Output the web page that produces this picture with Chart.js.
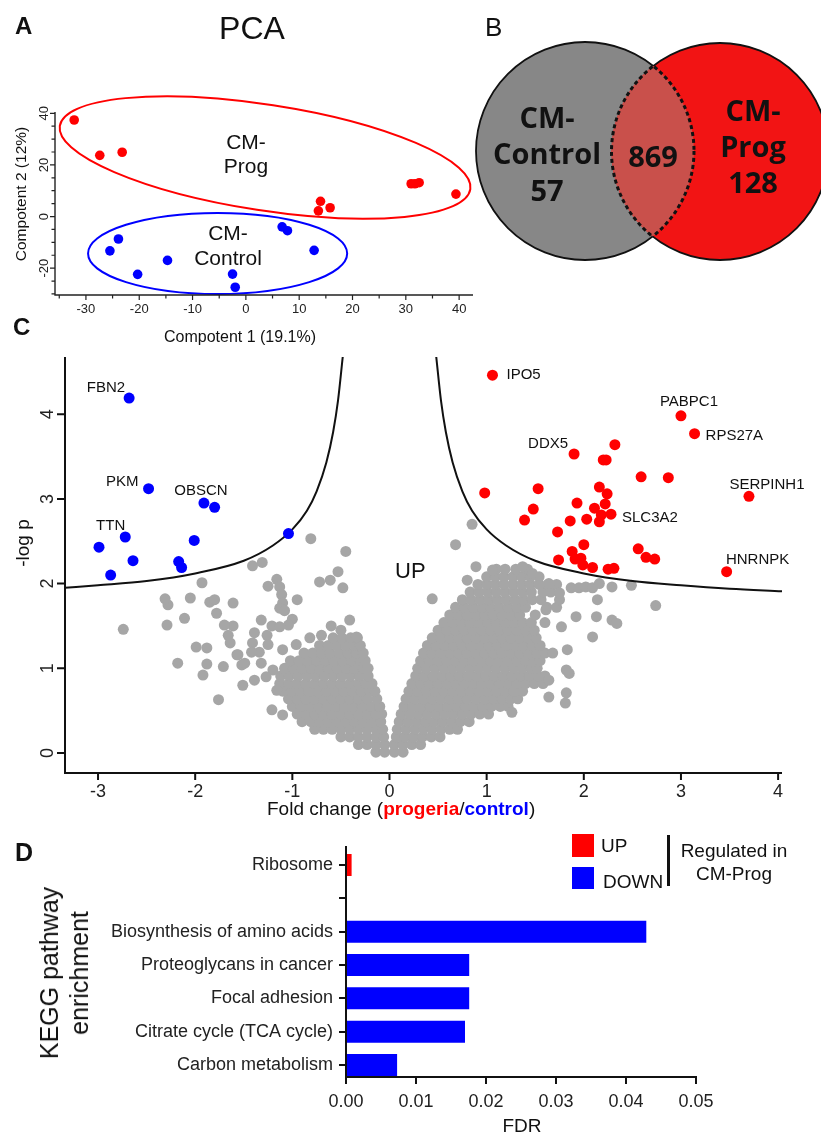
<!DOCTYPE html>
<html lang="en"><head><meta charset="utf-8"><title>Progeria figure</title>
<script src="https://cdn.jsdelivr.net/npm/chart.js@4.4.1/dist/chart.umd.min.js"></script>
<style>
html,body{margin:0;padding:0;background:#fff;}
#page{position:relative;width:821px;height:1133px;overflow:hidden;background:#fff;font-family:Arial,"Liberation Sans",Helvetica,sans-serif;color:#111;}
#page canvas{position:absolute;}
.t{position:absolute;white-space:nowrap;line-height:1;}
.c{transform:translate(-50%,-50%);text-align:center;}
.r{transform:translate(-50%,-50%) rotate(-90deg);text-align:center;}
.venn{font-family:"Open Sans",sans-serif;font-weight:700;font-size:29px;color:#111;}
.box{position:absolute;}
</style></head><body>
<div id="page">
<canvas id="cA" width="480" height="320" style="left:0;top:0"></canvas>
<canvas id="cB" width="361" height="300" style="left:460px;top:0"></canvas>
<canvas id="cC" width="821" height="510" style="left:0;top:320px"></canvas>
<canvas id="cD" width="821" height="303" style="left:0;top:830px"></canvas>

<div class="t" style="left:15px;top:14px;font-size:24px;font-weight:700">A</div>
<div class="t c" style="left:252px;top:28px;font-size:32px">PCA</div>
<div class="t c" id="lblProg" style="left:246px;top:154px;font-size:21px;line-height:24px"></div>
<div class="t c" id="lblCtrl" style="left:228px;top:244.5px;font-size:21px;line-height:25px"></div>
<div class="t r" style="left:21px;top:194px;font-size:15.5px">Compotent 2 (12%)</div>
<div class="t c" style="left:240px;top:337px;font-size:16px">Compotent 1 (19.1%)</div>

<div class="t" style="left:485px;top:13.6px;font-size:26px">B</div>
<div class="t c venn" id="vCtrl" style="left:547px;top:153.5px;line-height:36.5px"></div>
<div class="t c venn" id="vBoth" style="left:653px;top:155px"></div>
<div class="t c venn" id="vProg" style="left:753px;top:146px;line-height:36px"></div>

<div class="t" style="left:13px;top:315px;font-size:24px;font-weight:700">C</div>
<div class="t r" style="left:22px;top:543px;font-size:19px">-log p</div>
<div class="t" style="left:395px;top:560px;font-size:22px">UP</div>
<div class="t" style="left:267px;top:798.5px;font-size:19px">Fold change (<b style="color:#ff0000">progeria</b>/<b style="color:#0000ff">control</b>)</div>

<div class="t" style="left:15px;top:840px;font-size:25px;font-weight:700">D</div>
<div class="t r" style="left:64px;top:973px;font-size:25px;line-height:30px">KEGG pathway<br>enrichment</div>
<div class="t c" style="left:522px;top:1125px;font-size:19px">FDR</div>
<div class="box" style="left:572px;top:834px;width:22px;height:23px;background:#ff0000"></div>
<div class="box" style="left:572px;top:867px;width:22px;height:22px;background:#0000ff"></div>
<div class="t" id="legUp" style="left:601px;top:845px;transform:translateY(-50%);font-size:19px"></div>
<div class="t" id="legDown" style="left:603px;top:881px;transform:translateY(-50%);font-size:19px"></div>
<div class="box" style="left:667px;top:835px;width:2.5px;height:51px;background:#111"></div>
<div class="t c" style="left:734px;top:861.75px;font-size:19px;line-height:23.5px">Regulated in<br>CM-Prog</div>
</div>

<script>
const FONT = 'Arial, "Liberation Sans", Helvetica, sans-serif';

/* ---------------- Panel A : PCA ---------------- */
const pcaGroups = ['CM-Prog', 'CM-Control'];
const pcaProgX = [-32.2, -27.4, -23.2, 14.0, 13.6, 15.8, 31.0, 31.7, 32.5, 39.4];
const pcaProgY = [37.4, 23.7, 24.9, 5.9, 2.2, 3.4, 12.7, 12.7, 13.1, 8.7];
const pcaCtrlX = [-23.9, -25.5, -20.3, -14.7, -2.5, -2.0, 6.8, 7.8, 12.8];
const pcaCtrlY = [-8.7, -13.3, -22.4, -17.0, -22.3, -27.4, -4.0, -5.5, -13.1];
const pcaXTicks = [-30, -20, -10, 0, 10, 20, 30, 40];
const pcaXMinorTicks = [-35, -30, -25, -20, -15, -10, -5, 0, 5, 10, 15, 20, 25, 30, 35, 40];
const pcaYTicks = [-20, 0, 20, 40];
const pcaYMinorTicks = [-30, -25, -20, -15, -10, -5, 0, 5, 10, 15, 20, 25, 30, 35, 40];
// group ellipses in data units: centre, end of major axis, end of minor axis
const pcaEllipseProg = [3.6, 22.87, 42.1, 10.6, 2.1, 2.6];
const pcaEllipseCtrl = [-5.3, -14.3, 19.0, -14.3, -5.3, 1.4];

/* ---------------- Panel B : Venn ---------------- */
const vennSets = ['CM-Control', 'CM-Prog'];
const vennOnly = [57, 128];
const vennShared = 869;

/* ---------------- Panel C : volcano ---------------- */
const volXTicks = [-3, -2, -1, 0, 1, 2, 3, 4];
const volYTicks = [0, 1, 2, 3, 4];
const downGenes = ['FBN2', 'PKM', 'OBSCN', '', 'TTN', '', '', '', '', '', '', ''];
const downX = [-2.68, -2.48, -1.91, -1.80, -2.72, -2.99, -2.64, -2.87, -2.01, -2.17, -2.14, -1.04];
const downY = [4.19, 3.12, 2.95, 2.90, 2.55, 2.43, 2.27, 2.10, 2.51, 2.26, 2.19, 2.59];
const upGenes = ['IPO5', 'PABPC1', 'RPS27A', 'DDX5', '', '', '', '', '', 'SERPINH1', '', '', '', '', '', '', '', '', 'SLC3A2', '', '', '', '', '', '', '', '', '', '', '', '', '', '', '', '', '', '', 'HNRNPK'];
const upX = [1.06, 3.00, 3.14, 1.90, 2.32, 2.20, 2.23, 2.59, 2.87, 3.70, 0.98, 1.53, 2.16, 2.24, 1.93, 2.22, 2.11, 1.48, 2.28, 2.18, 2.03, 2.16, 1.86, 1.39, 1.73, 2.00, 2.56, 1.88, 2.64, 2.73, 1.74, 1.91, 1.97, 1.99, 2.09, 2.25, 2.31, 3.47];
const upY = [4.46, 3.98, 3.77, 3.53, 3.64, 3.46, 3.46, 3.26, 3.25, 3.03, 3.07, 3.12, 3.14, 3.06, 2.95, 2.94, 2.89, 2.88, 2.82, 2.81, 2.76, 2.73, 2.74, 2.75, 2.61, 2.46, 2.41, 2.38, 2.31, 2.29, 2.28, 2.29, 2.30, 2.22, 2.19, 2.17, 2.18, 2.14];
// significance threshold curve
const curveLeftX = [-3.34, -3.0, -2.5, -2.0, -1.5, -1.2, -1.0, -0.85, -0.75, -0.65, -0.58, -0.53, -0.48];
const curveLeftY = [1.95, 1.98, 2.03, 2.12, 2.27, 2.45, 2.64, 2.86, 3.09, 3.43, 3.79, 4.16, 4.69];
const curveRightX = [0.48, 0.53, 0.58, 0.65, 0.75, 0.85, 1.0, 1.2, 1.5, 2.0, 2.5, 3.0, 3.5, 4.04];
const curveRightY = [4.69, 4.16, 3.79, 3.43, 3.09, 2.86, 2.64, 2.45, 2.27, 2.12, 2.03, 1.98, 1.94, 1.91];
// non-significant proteins: dense cloud read row by row [-log p, [fold changes]]
const greyRows = [
  [0.01, [-0.14, -0.05, 0.05, 0.14]],
  [0.10, [-0.32, -0.23, -0.14, -0.05, 0.05, 0.14, 0.23, 0.32]],
  [0.19, [-0.5, -0.41, -0.32, -0.23, -0.14, -0.06, 0.07, 0.16, 0.25, 0.34, 0.43, 0.52]],
  [0.28, [-0.77, -0.68, -0.59, -0.5, -0.41, -0.32, -0.23, -0.14, -0.07, 0.08, 0.17, 0.26, 0.35, 0.44, 0.53, 0.62, 0.7]],
  [0.37, [-0.9, -0.81, -0.72, -0.63, -0.54, -0.45, -0.36, -0.27, -0.18, -0.09, 0.1, 0.19, 0.28, 0.37, 0.46, 0.55, 0.64, 0.73, 0.82]],
  [0.46, [-0.95, -0.86, -0.77, -0.68, -0.59, -0.5, -0.41, -0.32, -0.23, -0.14, -0.08, 0.12, 0.21, 0.3, 0.39, 0.48, 0.57, 0.66, 0.75, 0.84, 0.93, 1.02]],
  [0.55, [-1.0, -0.91, -0.82, -0.73, -0.64, -0.55, -0.46, -0.37, -0.28, -0.19, -0.1, 0.15, 0.24, 0.33, 0.42, 0.51, 0.6, 0.69, 0.78, 0.87, 0.96, 1.05, 1.14, 1.22]],
  [0.64, [-1.04, -0.95, -0.86, -0.77, -0.68, -0.59, -0.5, -0.41, -0.32, -0.23, -0.13, 0.17, 0.26, 0.35, 0.44, 0.53, 0.62, 0.71, 0.8, 0.89, 0.98, 1.07, 1.16, 1.25, 1.32]],
  [0.73, [-1.1, -1.01, -0.92, -0.83, -0.74, -0.65, -0.56, -0.47, -0.38, -0.29, -0.2, -0.15, 0.2, 0.29, 0.38, 0.47, 0.56, 0.65, 0.74, 0.83, 0.92, 1.01, 1.1, 1.19, 1.28, 1.37]],
  [0.82, [-1.13, -1.04, -0.95, -0.86, -0.77, -0.68, -0.59, -0.5, -0.41, -0.32, -0.24, -0.18, 0.23, 0.32, 0.41, 0.5, 0.59, 0.68, 0.77, 0.86, 0.95, 1.04, 1.13, 1.22, 1.31, 1.4, 1.49, 1.58]],
  [0.91, [-1.12, -1.03, -0.94, -0.85, -0.76, -0.67, -0.58, -0.49, -0.4, -0.31, -0.22, 0.27, 0.36, 0.45, 0.54, 0.63, 0.72, 0.81, 0.9, 0.99, 1.08, 1.17, 1.26, 1.35, 1.44, 1.53, 1.6]],
  [1.00, [-1.08, -0.99, -0.9, -0.81, -0.72, -0.63, -0.54, -0.45, -0.36, -0.27, -0.22, 0.29, 0.38, 0.47, 0.56, 0.65, 0.74, 0.83, 0.92, 1.01, 1.1, 1.19, 1.28, 1.37, 1.46, 1.52]],
  [1.09, [-1.02, -0.93, -0.84, -0.75, -0.66, -0.57, -0.48, -0.39, -0.3, -0.25, 0.32, 0.41, 0.5, 0.59, 0.68, 0.77, 0.86, 0.95, 1.04, 1.13, 1.22, 1.31, 1.4, 1.49, 1.55]],
  [1.18, [-0.88, -0.79, -0.7, -0.61, -0.52, -0.43, -0.34, -0.27, 0.35, 0.44, 0.53, 0.62, 0.71, 0.8, 0.89, 0.98, 1.07, 1.16, 1.25, 1.34, 1.43, 1.52, 1.6]],
  [1.27, [-0.72, -0.63, -0.54, -0.45, -0.36, -0.3, 0.39, 0.48, 0.57, 0.66, 0.75, 0.84, 0.93, 1.02, 1.11, 1.2, 1.29, 1.38, 1.47, 1.55]],
  [1.36, [-0.58, -0.49, -0.4, -0.33, 0.44, 0.53, 0.62, 0.71, 0.8, 0.89, 0.98, 1.07, 1.16, 1.25, 1.34, 1.43, 1.51]],
  [1.45, [0.5, 0.59, 0.68, 0.77, 0.86, 0.95, 1.04, 1.13, 1.22, 1.31, 1.4, 1.49]],
  [1.54, [0.56, 0.65, 0.74, 0.83, 0.92, 1.01, 1.1, 1.19, 1.28, 1.37, 1.46, 1.6]],
  [1.63, [0.62, 0.71, 0.8, 0.89, 0.98, 1.07, 1.16, 1.25, 1.34, 1.5]],
  [1.72, [0.68, 0.77, 0.86, 0.95, 1.04, 1.13, 1.22, 1.31, 1.4, 1.62, 1.72]],
  [1.81, [0.75, 0.84, 0.93, 1.02, 1.11, 1.2, 1.29, 1.38, 1.47, 1.56, 1.75]],
  [1.90, [0.83, 0.92, 1.01, 1.1, 1.19, 1.28, 1.37, 1.46, 1.58, 1.66]],
  [1.99, [0.91, 1.0, 1.09, 1.18, 1.27, 1.36, 1.45, 1.54, 1.63, 1.72]],
  [2.08, [1.0, 1.09, 1.18, 1.27, 1.36, 1.45, 1.54]],
  [2.17, [1.1, 1.19, 1.3, 1.42]]
];
// non-significant proteins outside the dense cloud [fold change, -log p]
const greyScatter = [
  [-2.74, 1.46], [-2.29, 1.51], [-2.28, 1.75], [-2.31, 1.82], [-2.11, 1.59], [-2.05, 1.83], [-1.93, 2.01], [-1.85, 1.78],
  [-1.8, 1.81], [-1.78, 1.65], [-1.61, 1.77], [-1.61, 1.5], [-1.7, 1.51], [-1.66, 1.39], [-1.64, 1.3], [-1.41, 2.21],
  [-1.31, 2.25], [-1.25, 1.97], [-1.16, 2.05], [-1.13, 1.96], [-1.11, 1.87], [-1.1, 1.77], [-1.13, 1.71], [-1.08, 1.68],
  [-0.95, 1.81], [-1.0, 1.58], [-1.04, 1.51], [-1.32, 1.57], [-1.21, 1.5], [-1.13, 1.49], [-1.39, 1.42], [-1.41, 1.3],
  [-1.26, 1.39], [-1.25, 1.28], [-1.34, 1.19], [-1.1, 1.22], [-0.96, 1.28], [-0.82, 1.36], [-0.7, 1.39], [-0.6, 1.5],
  [-0.5, 1.45], [-0.41, 1.57], [-0.34, 1.37], [-0.81, 2.53], [-0.45, 2.38], [-0.72, 2.02], [-0.61, 2.04], [-0.53, 2.14],
  [-0.48, 1.95], [-1.99, 1.25], [-1.88, 1.24], [-1.57, 1.16], [-1.52, 1.04], [-2.18, 1.06], [-1.88, 1.05], [-1.71, 1.02],
  [-1.92, 0.92], [-1.42, 1.19], [-1.32, 1.06], [-1.49, 1.06], [-1.51, 0.8], [-1.39, 0.86], [-1.76, 0.63], [-1.21, 0.51],
  [-1.1, 0.45], [-1.56, 1.16], [-1.2, 0.98], [-1.27, 0.9], [-1.16, 0.74],
  [0.68, 2.46], [0.85, 2.7], [0.89, 2.2], [0.8, 2.04], [0.44, 1.82], [1.06, 2.16], [1.37, 2.2], [1.47, 2.12],
  [1.64, 2.0], [1.75, 1.89], [1.87, 1.95], [1.95, 1.95], [2.02, 1.96], [2.09, 1.95], [2.16, 2.0], [2.29, 1.96],
  [2.49, 1.98], [2.74, 1.74], [2.14, 1.81], [1.92, 1.61], [2.13, 1.61], [2.29, 1.57], [2.34, 1.53], [2.09, 1.37],
  [1.77, 1.49], [1.61, 1.69], [1.68, 1.18], [1.83, 1.22], [1.82, 0.98], [1.85, 0.94], [1.64, 0.86], [1.82, 0.71],
  [1.81, 0.59], [1.64, 0.66], [1.26, 0.48]
];

/* ---------------- Panel D : KEGG ---------------- */
const keggCats = ['Ribosome', '', 'Biosynthesis of amino acids', 'Proteoglycans in cancer', 'Focal adhesion', 'Citrate cycle (TCA cycle)', 'Carbon metabolism'];
const keggFdr = [0.0008, null, 0.0429, 0.0176, 0.0176, 0.0170, 0.0073];
const keggDir = ['UP', '', 'DOWN', 'DOWN', 'DOWN', 'DOWN', 'DOWN'];
const fdrTicks = [0, 0.01, 0.02, 0.03, 0.04, 0.05];
const fdrTickLabels = ['0.00', '0.01', '0.02', '0.03', '0.04', '0.05'];
const dirLabels = ['UP', 'DOWN'];

/* ---------------- styles / layout (not data) ---------------- */
const COL = {red: '#ff0000', blue: '#0000ff', grey: '#a6a6a6', ink: '#111111'};
const vennLayout = {prog: {x: 260, y: 151.5, r: 108.5}, ctrl: {x: 125, y: 151, r: 109}};
const vennStyle = {prog: '#f21414', ctrl: '#878787', both: '#c9504b'};
const geneLabelStyle = {
  FBN2: {dx: -4, dy: -10, align: 'right'}, PKM: {dx: -10, dy: -7, align: 'right'},
  OBSCN: {dx: -3, dy: -12, align: 'center'}, TTN: {dx: 0, dy: -11, align: 'right'},
  IPO5: {dx: 14, dy: 0, align: 'left'}, PABPC1: {dx: 8, dy: -14, align: 'center'},
  RPS27A: {dx: 11, dy: 2, align: 'left'}, DDX5: {dx: -26, dy: -10, align: 'center'},
  SERPINH1: {dx: 18, dy: -11, align: 'center'}, SLC3A2: {dx: 11, dy: 4, align: 'left'},
  HNRNPK: {dx: 31, dy: -12, align: 'center'}
};

/* ---------------- texts from data ---------------- */
document.getElementById('lblProg').innerHTML = 'CM-<br>' + pcaGroups[0].replace('CM-', '');
document.getElementById('lblCtrl').innerHTML = 'CM-<br>' + pcaGroups[1].replace('CM-', '');
document.getElementById('vCtrl').innerHTML = 'CM-<br>' + vennSets[0].replace('CM-', '') + '<br>' + vennOnly[0];
document.getElementById('vProg').innerHTML = 'CM-<br>' + vennSets[1].replace('CM-', '') + '<br>' + vennOnly[1];
document.getElementById('vBoth').textContent = String(vennShared);
document.getElementById('legUp').textContent = dirLabels[0];
document.getElementById('legDown').textContent = dirLabels[1];

const noUI = {legend: {display: false}, tooltip: {enabled: false}};

/* ---------------- Chart A ---------------- */
const pcaPlugin = {
  id: 'pcaDecor',
  afterDraw(chart) {
    const {ctx, chartArea: a, scales: {x, y}} = chart;
    ctx.save();
    [[pcaEllipseProg, COL.red], [pcaEllipseCtrl, COL.blue]].forEach(([e, col]) => {
      const cx = x.getPixelForValue(e[0]), cy = y.getPixelForValue(e[1]);
      const mx = x.getPixelForValue(e[2]) - cx, my = y.getPixelForValue(e[3]) - cy;
      const nx = x.getPixelForValue(e[4]) - cx, ny = y.getPixelForValue(e[5]) - cy;
      ctx.beginPath();
      ctx.ellipse(cx, cy, Math.hypot(mx, my), Math.hypot(nx, ny), Math.atan2(my, mx), 0, Math.PI * 2);
      ctx.strokeStyle = col; ctx.lineWidth = 2; ctx.stroke();
    });
    ctx.strokeStyle = '#222'; ctx.lineWidth = 1.4;
    ctx.beginPath();
    ctx.moveTo(a.left, a.top); ctx.lineTo(a.left, a.bottom); ctx.lineTo(a.right, a.bottom);
    ctx.stroke();
    ctx.beginPath(); ctx.lineWidth = 1.2;
    pcaXMinorTicks.forEach(v => {
      const p = x.getPixelForValue(v), L = pcaXTicks.includes(v) ? 5 : 3.5;
      ctx.moveTo(p, a.bottom); ctx.lineTo(p, a.bottom + L);
    });
    pcaYMinorTicks.forEach(v => {
      const p = y.getPixelForValue(v), L = pcaYTicks.includes(v) ? 5 : 3.5;
      ctx.moveTo(a.left, p); ctx.lineTo(a.left - L, p);
    });
    ctx.stroke();
    ctx.fillStyle = '#222'; ctx.font = '13px ' + FONT; ctx.textAlign = 'center'; ctx.textBaseline = 'alphabetic';
    pcaXTicks.forEach(v => ctx.fillText(String(v), x.getPixelForValue(v), a.bottom + 18));
    pcaYTicks.forEach(v => {
      ctx.save(); ctx.translate(a.left - 7, y.getPixelForValue(v)); ctx.rotate(-Math.PI / 2);
      ctx.fillText(String(v), 0, 0); ctx.restore();
    });
    ctx.restore();
  }
};
new Chart(document.getElementById('cA'), {
  type: 'scatter',
  data: {datasets: [
    {label: pcaGroups[0], data: pcaProgX.map((v, i) => ({x: v, y: pcaProgY[i]})), backgroundColor: COL.red, borderWidth: 0, pointRadius: 4.8},
    {label: pcaGroups[1], data: pcaCtrlX.map((v, i) => ({x: v, y: pcaCtrlY[i]})), backgroundColor: COL.blue, borderWidth: 0, pointRadius: 4.8}
  ]},
  options: {
    responsive: false, animation: false, events: [],
    layout: {padding: {left: 55, right: 7, top: 112, bottom: 25}, autoPadding: false},
    plugins: noUI,
    scales: {x: {type: 'linear', min: -35.8, max: 42.6, display: false}, y: {type: 'linear', min: -30.4, max: 40.5, display: false}}
  },
  plugins: [pcaPlugin]
});

/* ---------------- Chart B (Venn) ---------------- */
const vennPlugin = {
  id: 'vennDecor',
  afterDatasetsDraw(chart) {
    const {ctx, width, height} = chart;
    const pe = chart.getDatasetMeta(0).data[0], ge = chart.getDatasetMeta(1).data[0];
    const P = {x: pe.x, y: pe.y, r: pe.options.radius}, G = {x: ge.x, y: ge.y, r: ge.options.radius};
    const circle = (c) => { ctx.beginPath(); ctx.arc(c.x, c.y, c.r, 0, Math.PI * 2); };
    ctx.save(); circle(G); ctx.clip(); circle(P); ctx.fillStyle = vennStyle.both; ctx.fill(); ctx.restore();
    ctx.save(); ctx.strokeStyle = COL.ink; ctx.setLineDash([4, 3]);
    ctx.save(); circle(P); ctx.clip(); circle(G); ctx.lineWidth = 3; ctx.stroke(); ctx.restore();
    ctx.save(); circle(G); ctx.clip(); circle(P); ctx.lineWidth = 3; ctx.stroke(); ctx.restore();
    ctx.restore();
    ctx.save(); ctx.strokeStyle = COL.ink; ctx.lineWidth = 1.8;
    [[G, P], [P, G]].forEach(([c, o]) => {
      ctx.save(); ctx.beginPath(); ctx.rect(0, 0, width, height); ctx.arc(o.x, o.y, o.r, 0, Math.PI * 2); ctx.clip('evenodd');
      circle(c); ctx.stroke(); ctx.restore();
    });
    ctx.restore();
  }
};
new Chart(document.getElementById('cB'), {
  type: 'bubble',
  data: {datasets: [
    {label: vennSets[1], data: [{x: vennLayout.prog.x, y: vennLayout.prog.y, r: vennLayout.prog.r}], backgroundColor: vennStyle.prog, borderWidth: 0},
    {label: vennSets[0], data: [{x: vennLayout.ctrl.x, y: vennLayout.ctrl.y, r: vennLayout.ctrl.r}], backgroundColor: vennStyle.ctrl, borderWidth: 0}
  ]},
  options: {
    responsive: false, animation: false, events: [],
    layout: {padding: 0, autoPadding: false}, plugins: noUI,
    scales: {x: {min: 0, max: 361, display: false}, y: {min: 0, max: 300, reverse: true, display: false}}
  },
  plugins: [vennPlugin]
});

/* ---------------- Chart C (volcano) ---------------- */
const greyPoints = [];
greyRows.forEach(([yy, xs]) => xs.forEach(xx => greyPoints.push({x: xx, y: yy})));
greyScatter.forEach(([xx, yy]) => greyPoints.push({x: xx, y: yy}));

const volPlugin = {
  id: 'volDecor',
  afterDraw(chart) {
    const {ctx, chartArea: a, scales: {x, y}} = chart;
    ctx.save();
    ctx.strokeStyle = COL.ink; ctx.lineWidth = 2;
    ctx.beginPath(); ctx.moveTo(a.left, a.top); ctx.lineTo(a.left, a.bottom); ctx.lineTo(a.right, a.bottom); ctx.stroke();
    ctx.beginPath();
    volXTicks.forEach(v => { const p = x.getPixelForValue(v); ctx.moveTo(p, a.bottom); ctx.lineTo(p, a.bottom + 7); });
    volYTicks.forEach(v => { const p = y.getPixelForValue(v); ctx.moveTo(a.left, p); ctx.lineTo(a.left - 8, p); });
    ctx.stroke();
    ctx.fillStyle = '#222'; ctx.font = '18px ' + FONT; ctx.textAlign = 'center'; ctx.textBaseline = 'alphabetic';
    volXTicks.forEach(v => ctx.fillText(String(v), x.getPixelForValue(v), a.bottom + 23.5));
    volYTicks.forEach(v => {
      ctx.save(); ctx.translate(a.left - 12, y.getPixelForValue(v)); ctx.rotate(-Math.PI / 2);
      ctx.fillText(String(v), 0, 0); ctx.restore();
    });
    ctx.font = '15px ' + FONT; ctx.fillStyle = COL.ink; ctx.textBaseline = 'middle';
    const put = (names, xs, ys) => names.forEach((g, i) => {
      if (!g) return;
      const s = geneLabelStyle[g];
      ctx.textAlign = s.align;
      ctx.fillText(g, x.getPixelForValue(xs[i]) + s.dx, y.getPixelForValue(ys[i]) + s.dy);
    });
    put(downGenes, downX, downY);
    put(upGenes, upX, upY);
    ctx.restore();
  }
};
const curveStyle = {showLine: true, pointRadius: 0, borderColor: COL.ink, borderWidth: 2, cubicInterpolationMode: 'monotone', fill: false};
new Chart(document.getElementById('cC'), {
  type: 'scatter',
  data: {datasets: [
    {label: 'down', data: downX.map((v, i) => ({x: v, y: downY[i]})), backgroundColor: COL.blue, borderWidth: 0, pointRadius: 5.5},
    {label: 'up', data: upX.map((v, i) => ({x: v, y: upY[i]})), backgroundColor: COL.red, borderWidth: 0, pointRadius: 5.5},
    Object.assign({label: 'threshold-left', data: curveLeftX.map((v, i) => ({x: v, y: curveLeftY[i]}))}, curveStyle),
    Object.assign({label: 'threshold-right', data: curveRightX.map((v, i) => ({x: v, y: curveRightY[i]}))}, curveStyle),
    {label: 'n.s.', data: greyPoints, backgroundColor: COL.grey, borderWidth: 0, pointRadius: 5.5}
  ]},
  options: {
    responsive: false, animation: false, events: [],
    layout: {padding: {left: 65, right: 39, top: 37, bottom: 57}, autoPadding: false},
    plugins: noUI,
    scales: {x: {type: 'linear', min: -3.34, max: 4.04, display: false}, y: {type: 'linear', min: -0.236, max: 4.675, display: false}}
  },
  plugins: [volPlugin]
});

/* ---------------- Chart D (KEGG bars) ---------------- */
const keggPoints = [], keggColors = [];
keggFdr.forEach((v, i) => {
  if (v === null) return;
  keggPoints.push({x: v, y: i});
  keggColors.push(keggDir[i] === 'UP' ? COL.red : COL.blue);
});
new Chart(document.getElementById('cD'), {
  type: 'bar',
  data: {datasets: [{label: 'FDR', data: keggPoints, backgroundColor: keggColors, borderWidth: 0, barPercentage: 0.66, categoryPercentage: 1}]},
  options: {
    indexAxis: 'y', responsive: false, animation: false, events: [],
    layout: {padding: {left: 0, top: 17, right: 125, bottom: 0}, autoPadding: false},
    plugins: noUI,
    scales: {
      x: {
        type: 'linear', position: 'bottom', min: 0, max: 0.05, offset: false,
        afterBuildTicks: s => { s.ticks = fdrTicks.map(v => ({value: v})); },
        ticks: {callback: (v, i) => fdrTickLabels[i], font: {family: FONT, size: 18}, color: '#222', padding: 7, maxRotation: 0, autoSkip: false},
        grid: {drawOnChartArea: false, offset: false, tickLength: 7, color: COL.ink, lineWidth: 2},
        border: {color: COL.ink, width: 2},
        afterFit: s => { s.height = 56; }
      },
      y: {
        type: 'linear', reverse: true, min: -0.54, max: 6.36, offset: false,
        afterBuildTicks: s => { s.ticks = keggCats.map((c, i) => ({value: i})); },
        ticks: {callback: v => keggCats[v], font: {family: FONT, size: 18}, color: '#222', padding: 6, autoSkip: false},
        grid: {drawOnChartArea: false, offset: false, tickLength: 7, color: COL.ink, lineWidth: 2},
        border: {color: COL.ink, width: 2},
        afterFit: s => { s.width = 346; }
      }
    }
  }
});
</script>
</body></html>
